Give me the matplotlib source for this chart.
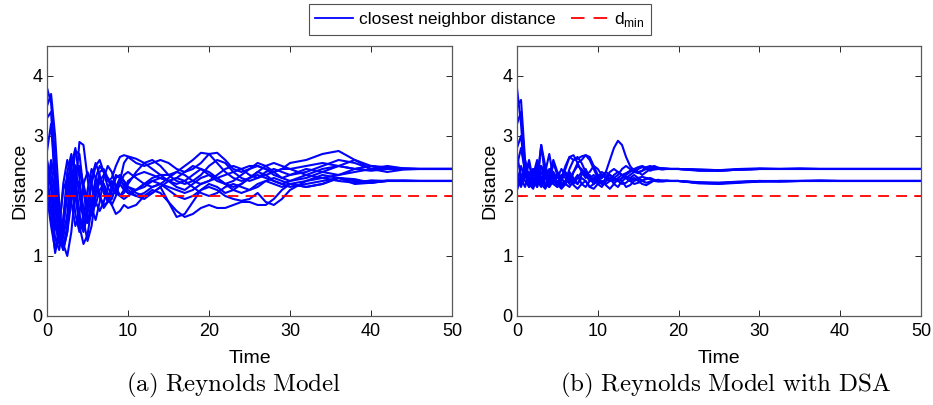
import numpy as np
import matplotlib
matplotlib.use('Agg')
import matplotlib.pyplot as plt
from matplotlib.lines import Line2D

plt.rcParams['font.family'] = ['Liberation Sans', 'DejaVu Sans']
plt.rcParams['mathtext.fontset'] = 'custom'
plt.rcParams['mathtext.rm'] = 'Liberation Sans'

# tiempos de muestreo (a)
t_a = [0, 0.5, 1, 1.5, 2, 2.5, 3, 3.5, 4, 4.5, 5, 5.5, 6, 6.5, 7, 7.5, 8, 8.5, 9, 9.5, 10,
       11, 12, 13, 14, 15, 16, 17, 18, 19, 20, 21, 22, 23, 24, 25, 26, 27, 28, 29, 30,
       32, 34, 36, 38, 40, 42, 44, 46, 48, 50]

# distancia al vecino mas cercano - modelo Reynolds
a1 = [3.80, 3.55, 2.60, 1.50, 1.10, 1.40, 2.20, 2.75, 2.70, 2.10, 1.60, 1.70, 2.10, 2.40, 2.45, 2.30, 2.10, 2.05, 2.20, 2.35, 2.40,
      2.30, 2.20, 2.15, 2.20, 2.30, 2.40, 2.35, 2.25, 2.20, 2.25, 2.35, 2.45, 2.50, 2.45, 2.35, 2.30, 2.35, 2.40, 2.45, 2.45,
      2.50, 2.55, 2.50, 2.45, 2.50, 2.48, 2.46, 2.45, 2.45, 2.45]
a2 = [3.50, 3.70, 3.00, 1.90, 1.20, 1.00, 1.40, 2.10, 2.90, 2.85, 2.30, 1.80, 1.60, 1.90, 2.30, 2.50, 2.40, 2.15, 2.00, 2.05, 2.20,
      2.40, 2.55, 2.60, 2.50, 2.35, 2.25, 2.20, 2.25, 2.35, 2.50, 2.60, 2.55, 2.40, 2.30, 2.25, 2.30, 2.40, 2.45, 2.40, 2.35,
      2.40, 2.50, 2.60, 2.55, 2.45, 2.50, 2.46, 2.45, 2.45, 2.45]
a3 = [2.75, 3.20, 2.20, 1.60, 1.30, 1.70, 2.50, 2.80, 2.30, 1.60, 1.25, 1.50, 2.00, 2.30, 2.20, 1.95, 1.85, 2.00, 2.25, 2.55, 2.65,
      2.55, 2.50, 2.55, 2.60, 2.55, 2.45, 2.40, 2.45, 2.55, 2.70, 2.72, 2.60, 2.45, 2.40, 2.45, 2.55, 2.50, 2.40, 2.30, 2.25,
      2.30, 2.40, 2.50, 2.60, 2.50, 2.45, 2.45, 2.45, 2.45, 2.45]
a4 = [2.40, 2.20, 1.60, 1.20, 1.50, 2.10, 2.40, 2.10, 1.60, 1.40, 1.70, 2.20, 2.50, 2.60, 2.40, 2.15, 2.00, 2.10, 2.25, 2.20, 2.10,
      2.00, 1.95, 2.05, 2.15, 1.90, 1.65, 1.70, 1.90, 2.10, 2.20, 2.15, 2.05, 2.10, 2.20, 2.30, 2.35, 2.30, 2.25, 2.20, 2.15,
      2.20, 2.25, 2.30, 2.28, 2.22, 2.25, 2.26, 2.25, 2.25, 2.25]
a5 = [2.20, 1.70, 1.05, 1.40, 2.20, 2.60, 2.30, 1.70, 1.40, 1.60, 2.10, 2.45, 2.30, 2.00, 1.85, 1.90, 2.10, 2.30, 2.35, 2.25, 2.15,
      2.10, 2.15, 2.25, 2.30, 2.25, 2.15, 2.10, 2.20, 2.30, 2.35, 2.30, 2.20, 2.10, 2.05, 2.10, 2.20, 2.25, 2.20, 2.15, 2.20,
      2.25, 2.30, 2.25, 2.22, 2.26, 2.25, 2.25, 2.25, 2.25, 2.25]
a6 = [2.30, 2.50, 2.00, 1.40, 1.15, 1.50, 2.00, 2.40, 2.50, 2.20, 1.90, 1.75, 1.85, 2.10, 2.20, 2.05, 1.85, 1.70, 1.75, 1.85, 1.80,
      1.85, 2.00, 2.10, 2.05, 1.90, 1.75, 1.65, 1.70, 1.80, 1.85, 1.80, 1.80, 1.85, 1.90, 1.90, 1.85, 1.85, 1.95, 2.10, 2.20,
      2.15, 2.20, 2.30, 2.25, 2.22, 2.25, 2.25, 2.25, 2.25, 2.25]
a7 = [2.10, 2.60, 2.30, 1.70, 1.40, 1.60, 2.10, 2.50, 2.45, 2.10, 1.80, 1.90, 2.30, 2.50, 2.40, 2.25, 2.30, 2.50, 2.65, 2.68, 2.66,
      2.62, 2.55, 2.45, 2.35, 2.25, 2.20, 2.25, 2.35, 2.45, 2.40, 2.30, 2.20, 2.15, 2.20, 2.30, 2.40, 2.50, 2.55, 2.50, 2.45,
      2.35, 2.30, 2.35, 2.40, 2.45, 2.45, 2.45, 2.45, 2.45, 2.45]
a8 = [2.50, 2.10, 1.50, 1.25, 1.60, 2.20, 2.60, 2.50, 2.00, 1.60, 1.55, 1.90, 2.20, 2.25, 2.10, 1.95, 2.00, 2.15, 2.20, 2.10, 2.05,
      2.10, 2.20, 2.30, 2.35, 2.35, 2.40, 2.50, 2.60, 2.72, 2.70, 2.55, 2.40, 2.30, 2.25, 2.30, 2.40, 2.35, 2.25, 2.20, 2.25,
      2.35, 2.45, 2.50, 2.45, 2.42, 2.45, 2.45, 2.45, 2.45, 2.45]
a9 = [2.30, 1.90, 1.30, 1.10, 1.50, 2.00, 2.30, 2.00, 1.50, 1.20, 1.35, 1.80, 2.10, 2.00, 1.80, 1.90, 2.15, 2.35, 2.30, 2.15, 2.05,
      2.00, 2.05, 2.15, 2.20, 2.15, 2.10, 2.05, 2.10, 2.20, 2.25, 2.30, 2.35, 2.40, 2.45, 2.50, 2.50, 2.45, 2.40, 2.45, 2.55,
      2.60, 2.70, 2.75, 2.60, 2.45, 2.40, 2.44, 2.45, 2.45, 2.45]
a10 = [2.00, 1.50, 1.10, 1.50, 2.10, 2.30, 1.90, 1.50, 1.70, 2.20, 2.40, 2.20, 1.90, 1.75, 1.90, 2.15, 2.25, 2.15, 2.00, 1.95, 2.00,
       2.10, 2.20, 2.25, 2.20, 2.10, 2.00, 1.95, 2.00, 2.10, 2.15, 2.10, 2.00, 1.95, 1.92, 1.95, 2.05, 1.90, 1.85, 1.95, 2.10,
       2.25, 2.35, 2.30, 2.20, 2.22, 2.26, 2.25, 2.25, 2.25, 2.25]
a11 = [2.60, 2.30, 1.80, 1.30, 1.10, 1.40, 1.90, 2.30, 2.20, 1.80, 1.55, 1.70, 2.00, 2.25, 2.35, 2.30, 2.20, 2.05, 2.00, 2.10, 2.25,
       2.35, 2.40, 2.35, 2.30, 2.25, 2.30, 2.40, 2.50, 2.45, 2.35, 2.25, 2.20, 2.25, 2.35, 2.45, 2.50, 2.45, 2.35, 2.30, 2.35,
       2.45, 2.40, 2.35, 2.45, 2.50, 2.45, 2.45, 2.45, 2.45, 2.45]
a12 = [3.30, 3.40, 2.20, 1.40, 1.60, 2.40, 2.70, 2.30, 1.70, 1.45, 1.80, 2.30, 2.55, 2.35, 2.05, 1.90, 1.95, 2.15, 2.30, 2.25, 2.15,
       2.05, 2.00, 2.05, 2.15, 2.25, 2.30, 2.25, 2.15, 2.05, 2.00, 2.05, 2.15, 2.20, 2.15, 2.10, 2.15, 2.25, 2.30, 2.25, 2.20,
       2.15, 2.20, 2.30, 2.25, 2.24, 2.25, 2.25, 2.25, 2.25, 2.25]

# tiempos de muestreo (b)
t_b = [0, 0.5, 1, 1.5, 2, 2.5, 3, 3.5, 4, 4.5, 5, 5.5, 6, 6.5, 7, 7.5, 8, 8.5, 9, 9.5,
       10, 10.5, 11, 11.5, 12, 12.5, 13, 13.5, 14, 14.5, 15, 15.5, 16, 16.5, 17, 17.5, 18, 18.5, 19, 19.5, 20,
       22.5, 25, 27.5, 30, 32.5, 35, 37.5, 40, 42.5, 45, 47.5, 50]

# distancia al vecino mas cercano - Reynolds con DSA
b1 = [3.80, 3.20, 2.30, 2.55, 2.20, 2.45, 2.25, 2.50, 2.30, 2.20,
      2.35, 2.25, 2.40, 2.30, 2.20, 2.30, 2.40, 2.35, 2.25, 2.30,
      2.35, 2.30, 2.40, 2.60, 2.80, 2.92, 2.85, 2.65, 2.50, 2.42,
      2.40, 2.42, 2.45, 2.48, 2.50, 2.47, 2.45, 2.46, 2.45, 2.45, 2.45,
      2.44, 2.43, 2.45, 2.46, 2.45, 2.45, 2.45, 2.45, 2.45, 2.45, 2.45, 2.45]
b2 = [3.50, 3.60, 2.60, 2.20, 2.45, 2.15, 2.85, 2.30, 2.20, 2.40,
      2.20, 2.30, 2.45, 2.65, 2.68, 2.55, 2.40, 2.30, 2.35, 2.25,
      2.30, 2.40, 2.35, 2.30, 2.25, 2.30, 2.35, 2.30, 2.25, 2.28,
      2.30, 2.32, 2.30, 2.28, 2.26, 2.25, 2.26, 2.25, 2.25, 2.25, 2.25,
      2.22, 2.21, 2.23, 2.25, 2.24, 2.25, 2.25, 2.25, 2.25, 2.25, 2.25, 2.25]
b3 = [3.20, 3.40, 2.50, 2.15, 2.35, 2.60, 2.20, 2.40, 2.70, 2.30,
      2.15, 2.35, 2.30, 2.20, 2.40, 2.55, 2.60, 2.68, 2.65, 2.50,
      2.35, 2.30, 2.40, 2.35, 2.30, 2.35, 2.45, 2.50, 2.45, 2.40,
      2.38, 2.42, 2.48, 2.50, 2.47, 2.45, 2.46, 2.45, 2.45, 2.45, 2.45,
      2.42, 2.42, 2.44, 2.45, 2.45, 2.45, 2.45, 2.45, 2.45, 2.45, 2.45, 2.45]
b4 = [2.70, 2.30, 2.15, 2.40, 2.20, 2.55, 2.30, 2.15, 2.35, 2.60,
      2.40, 2.20, 2.25, 2.45, 2.60, 2.65, 2.55, 2.40, 2.30, 2.35,
      2.25, 2.20, 2.30, 2.35, 2.30, 2.25, 2.30, 2.35, 2.40, 2.45,
      2.40, 2.35, 2.40, 2.45, 2.48, 2.45, 2.44, 2.45, 2.45, 2.45, 2.45,
      2.43, 2.42, 2.44, 2.45, 2.45, 2.46, 2.45, 2.45, 2.45, 2.45, 2.45, 2.45]
b5 = [2.40, 2.20, 2.60, 2.30, 2.15, 2.35, 2.50, 2.20, 2.15, 2.30,
      2.25, 2.15, 2.20, 2.35, 2.25, 2.20, 2.30, 2.25, 2.15, 2.20,
      2.30, 2.25, 2.20, 2.25, 2.30, 2.25, 2.20, 2.22, 2.28, 2.30,
      2.25, 2.20, 2.18, 2.22, 2.26, 2.27, 2.25, 2.25, 2.25, 2.25, 2.25,
      2.22, 2.21, 2.23, 2.25, 2.24, 2.25, 2.26, 2.25, 2.25, 2.25, 2.25, 2.25]
b6 = [2.20, 2.50, 2.25, 2.15, 2.45, 2.25, 2.15, 2.40, 2.20, 2.55,
      2.35, 2.15, 2.25, 2.40, 2.30, 2.20, 2.35, 2.45, 2.30, 2.20,
      2.25, 2.35, 2.30, 2.25, 2.35, 2.40, 2.35, 2.30, 2.35, 2.40,
      2.45, 2.48, 2.45, 2.42, 2.45, 2.47, 2.46, 2.45, 2.45, 2.45, 2.45,
      2.43, 2.42, 2.44, 2.45, 2.45, 2.45, 2.45, 2.45, 2.45, 2.45, 2.45, 2.45]
b7 = [2.50, 2.80, 2.40, 2.20, 2.30, 2.25, 2.50, 2.35, 2.15, 2.25,
      2.40, 2.30, 2.50, 2.65, 2.60, 2.62, 2.66, 2.68, 2.60, 2.45,
      2.30, 2.20, 2.25, 2.30, 2.28, 2.25, 2.30, 2.32, 2.30, 2.35,
      2.30, 2.26, 2.28, 2.30, 2.27, 2.25, 2.25, 2.26, 2.25, 2.25, 2.25,
      2.22, 2.22, 2.24, 2.25, 2.25, 2.25, 2.25, 2.25, 2.25, 2.25, 2.25, 2.25]
b8 = [2.30, 2.15, 2.35, 2.60, 2.25, 2.15, 2.40, 2.30, 2.45, 2.20,
      2.15, 2.30, 2.20, 2.15, 2.25, 2.35, 2.20, 2.15, 2.25, 2.30,
      2.20, 2.15, 2.25, 2.30, 2.20, 2.15, 2.25, 2.30, 2.25, 2.20,
      2.22, 2.25, 2.30, 2.28, 2.25, 2.24, 2.25, 2.25, 2.25, 2.25, 2.25,
      2.23, 2.22, 2.23, 2.24, 2.25, 2.25, 2.25, 2.25, 2.25, 2.25, 2.25, 2.25]
b9 = [2.80, 3.00, 2.40, 2.25, 2.40, 2.30, 2.85, 2.50, 2.25, 2.35,
      2.30, 2.45, 2.35, 2.25, 2.40, 2.50, 2.45, 2.35, 2.40, 2.50,
      2.45, 2.35, 2.30, 2.40, 2.45, 2.40, 2.35, 2.38, 2.42, 2.45,
      2.48, 2.50, 2.47, 2.45, 2.44, 2.45, 2.46, 2.45, 2.45, 2.45, 2.45,
      2.44, 2.43, 2.44, 2.45, 2.45, 2.45, 2.45, 2.45, 2.45, 2.45, 2.45, 2.45]
b10 = [2.10, 2.30, 2.50, 2.20, 2.12, 2.30, 2.20, 2.12, 2.25, 2.40,
       2.20, 2.12, 2.20, 2.30, 2.18, 2.12, 2.20, 2.25, 2.15, 2.12,
       2.20, 2.25, 2.18, 2.12, 2.20, 2.28, 2.25, 2.15, 2.18, 2.25,
       2.28, 2.25, 2.22, 2.24, 2.26, 2.25, 2.24, 2.25, 2.25, 2.25, 2.25,
       2.21, 2.20, 2.22, 2.24, 2.25, 2.25, 2.25, 2.25, 2.25, 2.25, 2.25, 2.25]

d_min = 2
series_a = [a1, a2, a3, a4, a5, a6, a7, a8, a9, a10, a11, a12]
series_b = [b1, b2, b3, b4, b5, b6, b7, b8, b9, b10]

fig = plt.figure(figsize=(9.33, 4.05), dpi=100)
ax1 = fig.add_axes([0.0504, 0.2198, 0.4341, 0.6667])
ax2 = fig.add_axes([0.5541, 0.2198, 0.4330, 0.6667])

for ax, t, series in [(ax1, t_a, series_a), (ax2, t_b, series_b)]:
    for s in series:
        ax.plot(t, s, color='blue', linewidth=1.5)
    ax.axhline(d_min, color='red', linestyle='--', linewidth=1.3, dashes=(6, 4))
    ax.set_xlim(0, 50)
    ax.set_ylim(0, 4.5)
    ax.set_xticks([0, 10, 20, 30, 40, 50])
    ax.set_yticks([0, 1, 2, 3, 4])
    ax.tick_params(direction='in', top=True, right=True, labelsize=13,
                   length=4, width=0.7, color='0.15')
    ax.tick_params(axis='x', pad=5)
    ax.tick_params(axis='y', pad=3)
    for sp in ax.spines.values():
        sp.set_color('0.35')
        sp.set_linewidth(0.9)
    ax.set_xlabel('Time', fontsize=14, labelpad=7)
    ax.set_ylabel('Distance', fontsize=14, labelpad=3)

handles = [Line2D([], [], color='blue', linewidth=1.3),
           Line2D([], [], color='red', linestyle='--', linewidth=1.3, dashes=(7.5, 5))]
leg = fig.legend(handles, ['closest neighbor distance', r'd$_{\mathrm{min}}$'],
                 loc='upper center', bbox_to_anchor=(480 / 933, 1 - 4 / 405), ncol=2,
                 fontsize=12.5, frameon=True, fancybox=False, edgecolor='0.15',
                 handlelength=2.2, columnspacing=0.9, handletextpad=0.3,
                 borderpad=0.35, borderaxespad=0)
leg.get_frame().set_linewidth(0.8)

fig.text(234 / 933, 1 - 385 / 405, r'$\mathrm{(a)\ Reynolds\ Model}$', ha='center', va='center',
         fontsize=18, math_fontfamily='cm')
fig.text(725 / 933, 1 - 385 / 405, r'$\mathrm{(b)\ Reynolds\ Model\ with\ DSA}$', ha='center',
         va='center', fontsize=18, math_fontfamily='cm')

fig.savefig('out.png', dpi=100)
